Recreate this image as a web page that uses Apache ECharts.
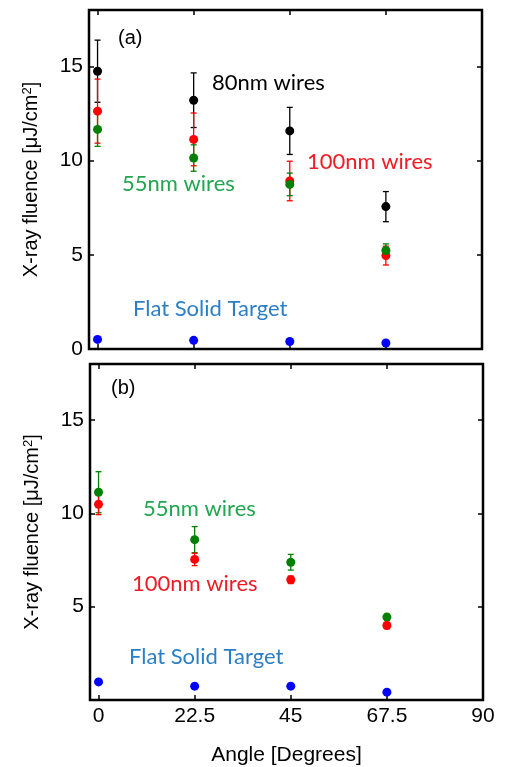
<!DOCTYPE html>
<html>
<head>
<meta charset="utf-8">
<script src="https://cdn.jsdelivr.net/npm/echarts@6/dist/echarts.min.js"></script>
<style>
  html, body { margin: 0; padding: 0; background: #fff; }
  #chart { width: 505px; height: 767px; }
</style>
</head>
<body>
<div id="chart"></div>
<script>
// angles (degrees)
const angles = [0, 22.5, 45, 67.5];
const xTicks = [0, 22.5, 45, 67.5, 90];
const yTicksA = [0, 5, 10, 15];
const yTicksB = [5, 10, 15];

// panel (a)
const a80 = [14.75, 13.21, 11.58, 7.56];
const a80Err = [1.65, 1.45, 1.25, 0.8];
const a100 = [12.63, 11.13, 8.92, 4.96];
const a100Err = [1.7, 1.4, 1.05, 0.5];
const a55 = [11.66, 10.14, 8.74, 5.23];
const a55Err = [0.9, 0.7, 0.6, 0.35];
const aFlat = [0.51, 0.46, 0.40, 0.32];

// panel (b)
const b55 = [11.13, 8.59, 7.38, 4.44];
const b55Err = [1.1, 0.7, 0.42, 0.15];
const b100 = [10.48, 7.53, 6.44, 3.99];
const b100Err = [0.55, 0.33, 0.2, 0.17];
const bFlat = [0.97, 0.74, 0.74, 0.42];

const BLACK = "#000000", RED = "#ff0000", GREEN = "#008000", BLUE = "#0000ff";
const FONT = "Liberation Sans";
const NOTE_FONT = "Lato";

function pts(vals) {
    return angles.map((a, i) => [a, vals[i]]);
}
function errPts(vals, errs) {
    return angles.map((a, i) => [a, vals[i], errs[i]]);
}

function errorSeries(g, vals, errs, color) {
    return {
        type: "custom",
        xAxisIndex: g * 2,
        yAxisIndex: g * 2,
        data: errPts(vals, errs),
        z: 3,
        renderItem: function (params, api) {
            const x = api.value(0), y = api.value(1), e = api.value(2);
            const hi = api.coord([x, y + e]);
            const lo = api.coord([x, y - e]);
            const cap = 3;
            const style = { stroke: color, lineWidth: 1.3 };
            return {
                type: "group",
                children: [
                    { type: "line", shape: { x1: hi[0], y1: hi[1], x2: lo[0], y2: lo[1] }, style: style },
                    { type: "line", shape: { x1: hi[0] - cap, y1: hi[1], x2: hi[0] + cap, y2: hi[1] }, style: style },
                    { type: "line", shape: { x1: lo[0] - cap, y1: lo[1], x2: lo[0] + cap, y2: lo[1] }, style: style },
                ],
            };
        },
    };
}

function markerSeries(g, vals, color) {
    return {
        type: "scatter",
        xAxisIndex: g * 2,
        yAxisIndex: g * 2,
        data: pts(vals),
        symbolSize: 9,
        itemStyle: { color: color, opacity: 1 },
        z: 4,
    };
}

function xAxes(g) {
    const base = {
        type: "value",
        gridIndex: g,
        min: -2,
        max: 90,
        splitLine: { show: false },
        axisLine: { show: false, onZero: false },
        axisTick: { show: true, inside: true, length: 5, customValues: xTicks, lineStyle: { color: "#000", width: 1.5 } },
    };
    return [
        Object.assign({}, base, {
            position: "bottom",
            axisLabel: {
                show: g === 1,
                customValues: xTicks,
                color: "#000",
                fontFamily: FONT,
                fontSize: 21,
                margin: 6,
            },
            name: g === 1 ? "Angle [Degrees]" : "",
            nameLocation: "middle",
            nameGap: 45,
            nameTextStyle: { color: "#000", fontFamily: FONT, fontSize: 21 },
        }),
        Object.assign({}, base, { position: "top", axisLabel: { show: false } }),
    ];
}

function yAxes(g) {
    const ticks = g === 0 ? yTicksA : yTicksB;
    const base = {
        type: "value",
        gridIndex: g,
        min: 0,
        max: 18,
        interval: 5,
        splitLine: { show: false },
        axisLine: { show: false, onZero: false },
        axisTick: { show: true, inside: true, length: 5, customValues: ticks, lineStyle: { color: "#000", width: 1.5 } },
    };
    return [
        Object.assign({}, base, {
            position: "left",
            axisLabel: {
                customValues: ticks,
                color: "#000",
                fontFamily: FONT,
                fontSize: 21,
                margin: 6,
            },
            name: "{t|X-ray fluence [μJ/cm}{s|2}{t|]}",
            nameLocation: "middle",
            nameGap: 47,
            nameTextStyle: {
                rich: {
                    t: { color: "#000", fontFamily: FONT, fontSize: 20 },
                    s: { color: "#000", fontFamily: FONT, fontSize: 13, verticalAlign: "top", padding: [0, 0, 8, 0] },
                },
            },
        }),
        Object.assign({}, base, { position: "right", axisLabel: { show: false } }),
    ];
}

function note(text, left, cy, color) {
    return {
        type: "text",
        left: left,
        top: cy - 13,
        style: { text: text, fill: color, font: "22px " + NOTE_FONT },
    };
}

const chart = echarts.init(document.getElementById("chart"));
chart.setOption({
    animation: false,
    backgroundColor: "#fff",
    grid: [
        { left: 89, top: 10, width: 393, height: 339, show: true, borderColor: "#000", borderWidth: 2.5, backgroundColor: "transparent" },
        { left: 90, top: 364, width: 393, height: 338, show: true, borderColor: "#000", borderWidth: 2.5, backgroundColor: "transparent" },
    ],
    xAxis: xAxes(0).concat(xAxes(1)),
    yAxis: yAxes(0).concat(yAxes(1)),
    series: [
        errorSeries(0, a80, a80Err, BLACK),
        markerSeries(0, a80, BLACK),
        errorSeries(0, a100, a100Err, RED),
        markerSeries(0, a100, RED),
        errorSeries(0, a55, a55Err, GREEN),
        markerSeries(0, a55, GREEN),
        markerSeries(0, aFlat, BLUE),

        errorSeries(1, b55, b55Err, GREEN),
        markerSeries(1, b55, GREEN),
        errorSeries(1, b100, b100Err, RED),
        markerSeries(1, b100, RED),
        markerSeries(1, bFlat, BLUE),
    ],
    graphic: [
        { type: "text", left: 118, top: 28, style: { text: "(a)", fill: "#000", font: "20px " + FONT } },
        note("80nm wires", 212, 85, "#000000"),
        note("100nm wires", 307, 164, "#ee1c25"),
        note("55nm wires", 122, 186, "#22a650"),
        note("Flat Solid Target", 133, 311, "#2a7fc6"),

        { type: "text", left: 111, top: 378, style: { text: "(b)", fill: "#000", font: "20px " + FONT } },
        note("55nm wires", 143, 511, "#22a650"),
        note("100nm wires", 132, 586, "#ee1c25"),
        note("Flat Solid Target", 129, 659, "#2a7fc6"),
    ],
});
</script>
</body>
</html>
